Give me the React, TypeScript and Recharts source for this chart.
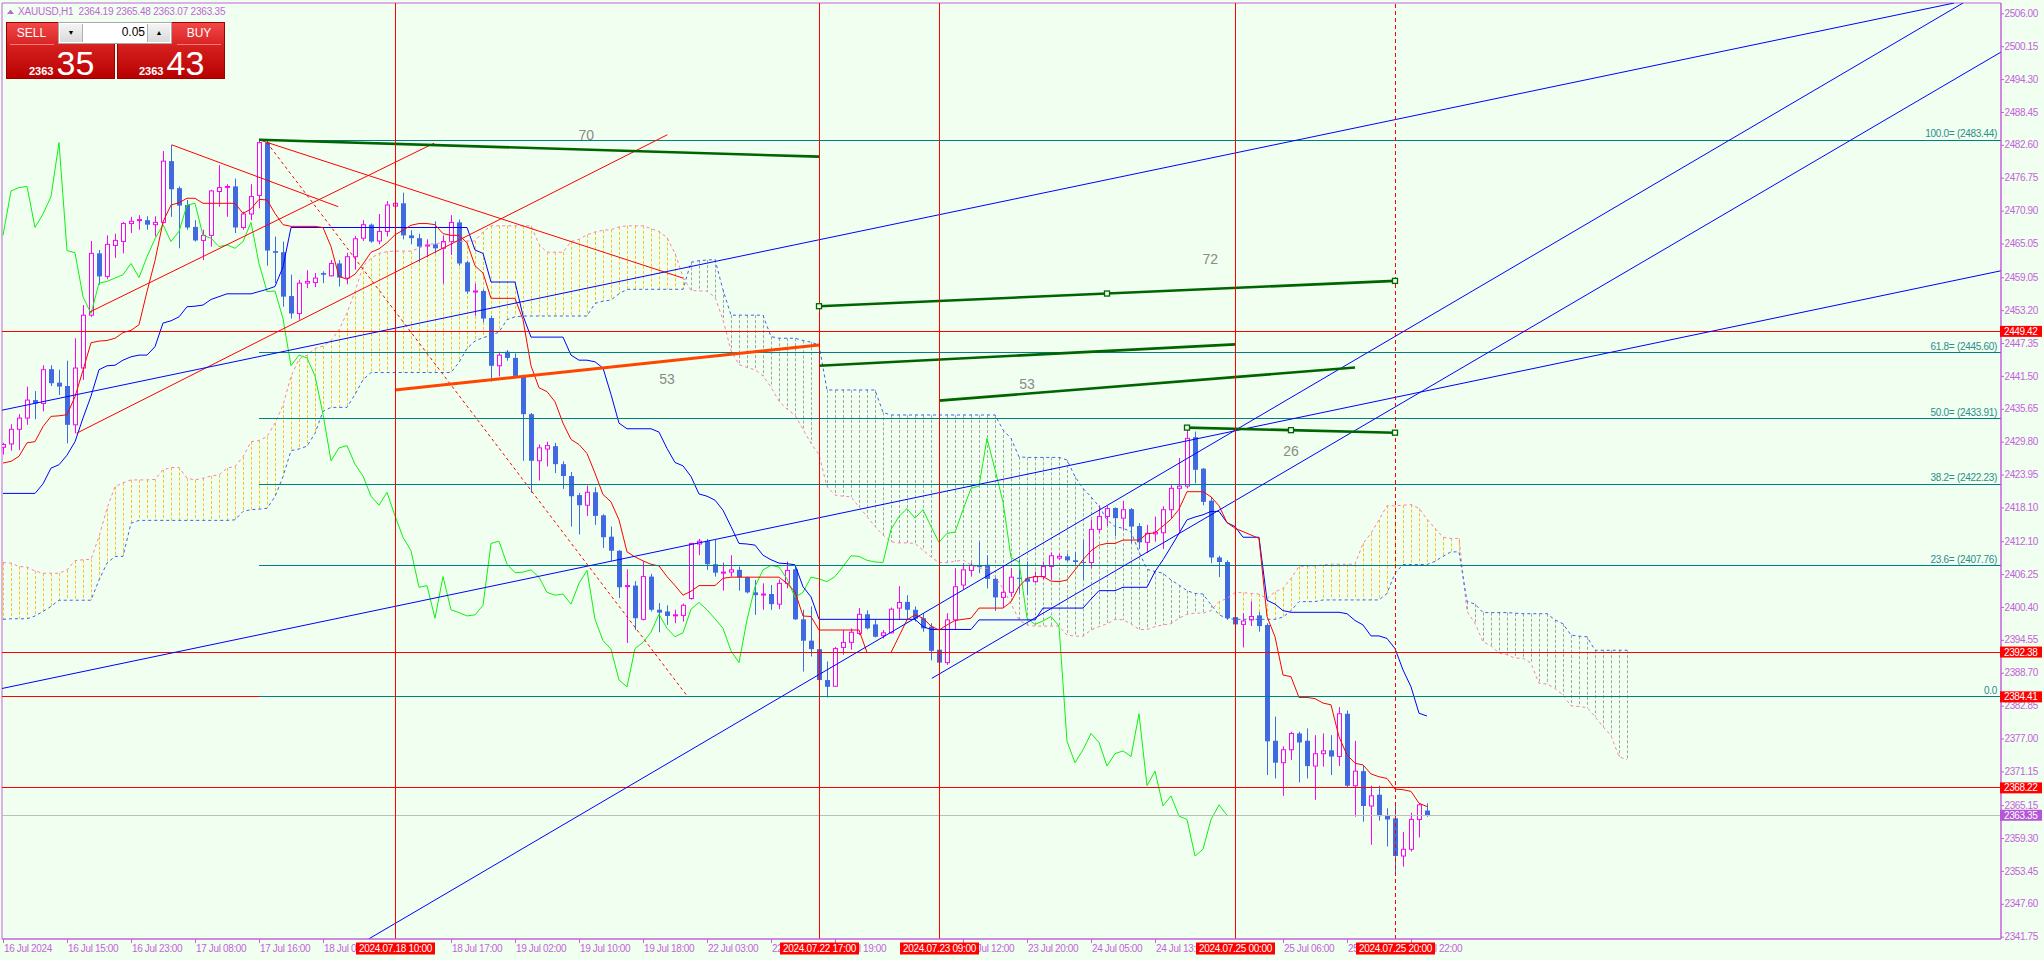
import React from 'react';
import {
  ComposedChart,
  Bar,
  Line,
  XAxis,
  YAxis,
  ReferenceLine,
  ReferenceDot,
  ReferenceArea,
} from 'recharts';

// XAUUSD H1, one row per bar (index 0 = 16 Jul 07:00)
const open = [
  2428.8, 2429.4, 2432.0, 2434.0, 2437.2, 2436.6, 2442.7, 2440.3, 2439.7, 2432.8,
  2442.9, 2452.3, 2463.3, 2459.2, 2464.7, 2465.4, 2468.6, 2469.2, 2469.2, 2468.4,
  2468.8, 2479.7, 2474.9, 2471.9, 2468.0, 2465.6, 2466.5, 2474.3, 2475.1, 2475.2,
  2467.9, 2470.3, 2473.6, 2483.0, 2463.7, 2463.5, 2455.7, 2452.6, 2458.0, 2458.1,
  2459.8, 2459.3, 2461.5, 2458.9, 2462.7, 2466.0, 2468.4, 2465.5, 2467.2, 2471.7,
  2472.2, 2466.5, 2466.0, 2464.6, 2464.9, 2464.2, 2465.4, 2468.8, 2461.7, 2456.5,
  2456.6, 2451.8, 2443.3, 2445.8, 2444.7, 2441.5, 2434.7, 2426.4, 2428.5, 2429.0,
  2425.8, 2423.7, 2420.3, 2418.5, 2420.8, 2416.7, 2412.9, 2410.4, 2404.1, 2404.2,
  2398.2, 2405.8, 2399.9, 2399.6, 2398.9, 2398.9, 2401.9, 2411.6, 2412.1, 2408.0,
  2406.5, 2406.6, 2407.0, 2405.7, 2403.0, 2402.6, 2402.7, 2400.9, 2404.6, 2407.1,
  2398.2, 2394.4, 2392.9, 2387.4, 2386.3, 2393.2, 2394.1, 2395.7, 2399.1, 2397.3,
  2395.3, 2395.8, 2400.2, 2401.3, 2399.9, 2398.4, 2396.9, 2392.8, 2390.5, 2398.1,
  2404.3, 2406.9, 2407.8, 2407.9, 2405.4, 2402.1, 2403.0, 2405.6, 2405.5, 2404.9,
  2405.8, 2407.6, 2409.1, 2409.4, 2408.7, 2408.4, 2408.3, 2414.2, 2416.5, 2418.0,
  2416.2, 2417.8, 2414.8, 2411.9, 2413.4, 2413.6, 2417.7, 2421.5, 2421.9, 2430.6,
  2425.0, 2419.3, 2409.2, 2408.4, 2398.6, 2397.3, 2398.1, 2398.9, 2397.2, 2376.6,
  2372.7, 2375.0, 2377.9, 2376.6, 2372.1, 2374.3, 2374.9, 2373.8, 2381.4, 2368.6,
  2371.2, 2365.0, 2367.0, 2363.4, 2362.8, 2356.1, 2357.3, 2362.6, 2364.19,
];
const high = [
  2429.6, 2432.9, 2434.7, 2439.6, 2438.8, 2443.4, 2443.4, 2442.6, 2444.2, 2448.2,
  2454.1, 2465.5, 2463.9, 2466.5, 2466.8, 2468.9, 2469.8, 2470.1, 2469.9, 2469.9,
  2481.5, 2482.6, 2475.2, 2472.8, 2469.2, 2467.5, 2474.6, 2479.0, 2475.6, 2476.6,
  2470.7, 2475.6, 2483.44, 2483.3, 2466.3, 2465.4, 2459.5, 2458.6, 2460.3, 2459.8,
  2460.1, 2462.1, 2462.1, 2463.4, 2466.4, 2469.2, 2468.6, 2470.3, 2472.6, 2475.3,
  2474.1, 2467.4, 2466.8, 2465.8, 2469.0, 2466.5, 2470.1, 2469.3, 2462.0, 2457.9,
  2456.9, 2452.2, 2445.8, 2446.1, 2445.5, 2441.7, 2434.9, 2429.3, 2429.8, 2429.6,
  2426.3, 2424.4, 2420.7, 2422.0, 2421.7, 2416.9, 2414.7, 2410.5, 2407.1, 2405.0,
  2408.5, 2406.3, 2401.1, 2400.7, 2399.9, 2401.0, 2411.8, 2412.5, 2412.5, 2412.3,
  2408.3, 2409.6, 2407.6, 2405.8, 2405.2, 2404.6, 2404.3, 2405.3, 2408.5, 2407.5,
  2399.9, 2400.5, 2395.0, 2390.7, 2393.3, 2396.3, 2396.6, 2400.2, 2399.8, 2398.1,
  2396.3, 2400.3, 2404.1, 2402.5, 2400.5, 2399.3, 2397.5, 2393.9, 2399.3, 2407.3,
  2408.2, 2408.2, 2412.0, 2409.6, 2405.8, 2407.6, 2407.3, 2408.8, 2408.5, 2406.7,
  2408.5, 2410.1, 2409.9, 2409.9, 2410.2, 2412.3, 2415.9, 2418.5, 2418.4, 2418.1,
  2419.3, 2418.0, 2415.3, 2415.0, 2416.5, 2418.3, 2422.1, 2426.9, 2432.6, 2431.6,
  2425.1, 2420.0, 2409.5, 2408.7, 2400.5, 2399.3, 2401.4, 2399.5, 2397.5, 2380.9,
  2375.6, 2378.2, 2378.2, 2378.8, 2377.6, 2377.9, 2377.6, 2382.6, 2382.0, 2376.6,
  2372.1, 2368.6, 2368.6, 2364.6, 2365.5, 2360.4, 2363.8, 2365.5, 2365.48,
];
const low = [
  2427.5, 2428.2, 2428.3, 2432.8, 2433.8, 2435.2, 2439.7, 2438.1, 2429.5, 2431.3,
  2440.8, 2452.0, 2457.7, 2458.7, 2462.5, 2463.3, 2466.9, 2467.5, 2467.5, 2466.3,
  2468.6, 2469.8, 2464.2, 2467.5, 2465.4, 2462.1, 2464.5, 2471.6, 2469.8, 2466.9,
  2467.5, 2469.2, 2471.3, 2461.1, 2458.0, 2453.8, 2451.7, 2451.5, 2457.1, 2457.3,
  2458.0, 2459.2, 2457.4, 2457.8, 2460.4, 2465.5, 2465.2, 2464.9, 2466.3, 2464.5,
  2465.8, 2464.9, 2461.7, 2462.6, 2463.3, 2457.9, 2463.0, 2461.1, 2456.1, 2452.2,
  2451.0, 2440.5, 2441.4, 2444.2, 2441.4, 2426.4, 2420.7, 2422.9, 2425.4, 2424.2,
  2421.4, 2414.7, 2413.3, 2416.6, 2415.0, 2410.9, 2408.6, 2402.0, 2394.0, 2396.3,
  2398.0, 2399.6, 2395.9, 2397.2, 2397.5, 2397.8, 2401.7, 2409.6, 2407.0, 2405.8,
  2403.3, 2405.8, 2403.3, 2402.8, 2399.0, 2399.9, 2399.9, 2400.0, 2403.7, 2398.1,
  2388.9, 2391.6, 2384.2, 2384.3, 2386.2, 2391.9, 2392.8, 2395.4, 2396.4, 2395.0,
  2394.8, 2395.7, 2398.1, 2398.1, 2397.8, 2396.0, 2390.9, 2389.2, 2390.1, 2396.3,
  2403.5, 2405.8, 2406.4, 2403.7, 2399.7, 2400.2, 2402.2, 2402.8, 2402.5, 2404.7,
  2405.3, 2405.3, 2408.8, 2408.5, 2407.9, 2405.2, 2407.3, 2413.6, 2414.8, 2413.0,
  2414.1, 2411.7, 2410.7, 2410.0, 2412.0, 2410.7, 2416.2, 2413.8, 2421.5, 2422.4,
  2418.5, 2408.2, 2405.7, 2398.1, 2397.2, 2393.2, 2397.0, 2396.0, 2370.5, 2369.9,
  2366.8, 2373.2, 2369.2, 2369.9, 2366.1, 2372.0, 2370.5, 2372.1, 2368.2, 2363.1,
  2362.2, 2358.1, 2362.4, 2357.8, 2352.8, 2354.2, 2356.9, 2359.4, 2363.07,
];
const close = [
  2429.3, 2432.0, 2434.0, 2437.2, 2436.6, 2442.6, 2440.2, 2439.6, 2432.8, 2442.9,
  2452.3, 2463.3, 2459.2, 2464.9, 2465.6, 2468.6, 2469.0, 2469.3, 2468.4, 2468.8,
  2479.7, 2474.7, 2471.8, 2467.9, 2465.6, 2466.5, 2474.4, 2475.0, 2475.2, 2467.9,
  2470.3, 2473.4, 2483.0, 2463.8, 2463.4, 2455.6, 2452.6, 2458.0, 2458.3, 2458.9,
  2459.5, 2461.5, 2459.0, 2462.7, 2465.9, 2468.4, 2465.4, 2467.2, 2471.9, 2472.2,
  2466.5, 2466.0, 2464.5, 2464.8, 2464.2, 2465.4, 2468.8, 2461.5, 2456.5, 2456.6,
  2451.7, 2443.3, 2445.2, 2444.7, 2441.5, 2434.7, 2426.4, 2428.7, 2429.1, 2425.8,
  2423.7, 2420.1, 2418.5, 2420.8, 2416.6, 2412.8, 2410.4, 2403.9, 2404.2, 2398.4,
  2405.8, 2399.9, 2399.4, 2398.8, 2399.0, 2400.7, 2411.7, 2412.1, 2408.0, 2406.5,
  2406.6, 2407.0, 2405.7, 2403.0, 2402.5, 2402.7, 2400.9, 2404.6, 2406.9, 2398.2,
  2394.4, 2392.9, 2387.4, 2386.2, 2393.0, 2394.1, 2395.9, 2399.1, 2396.6, 2395.1,
  2395.8, 2400.0, 2401.2, 2399.9, 2398.3, 2396.6, 2392.6, 2390.5, 2398.1, 2404.0,
  2407.0, 2407.8, 2407.5, 2405.4, 2402.1, 2403.0, 2405.7, 2405.4, 2404.9, 2405.8,
  2407.6, 2409.5, 2409.4, 2408.7, 2408.4, 2408.3, 2414.2, 2416.5, 2417.9, 2416.2,
  2417.7, 2414.7, 2411.9, 2413.5, 2413.7, 2417.7, 2421.5, 2421.9, 2430.4, 2424.8,
  2419.1, 2409.2, 2408.4, 2398.4, 2397.3, 2397.9, 2398.7, 2397.0, 2376.5, 2372.7,
  2375.0, 2377.9, 2376.3, 2372.1, 2374.3, 2374.8, 2373.8, 2381.4, 2368.6, 2371.2,
  2365.0, 2366.8, 2363.2, 2362.6, 2356.1, 2357.3, 2362.6, 2365.2, 2363.35,
];

// Ichimoku lines
const tenkan = [
  2426.0, 2426.3, 2427.2, 2429.6, 2429.8, 2432.5, 2434.3, 2434.4, 2434.6, 2437.8,
  2442.5, 2447.4, 2447.7, 2447.8, 2448.2, 2449.2, 2449.6, 2450.6, 2456.5, 2462.0,
  2468.9, 2471.9, 2472.3, 2473.1, 2473.1, 2472.2, 2472.2, 2472.2, 2472.2, 2472.2,
  2470.4, 2471.2, 2472.9, 2472.8, 2470.4, 2468.4, 2468.1, 2468.1, 2468.1, 2468.1,
  2467.9, 2464.5, 2459.2, 2458.7, 2459.6, 2461.4, 2463.5, 2464.1, 2465.2, 2466.6,
  2467.4, 2468.3, 2468.6, 2468.6, 2468.4, 2466.8, 2466.5, 2466.5, 2465.2, 2461.1,
  2459.8, 2455.3, 2455.3, 2455.3, 2455.3, 2451.5, 2443.3, 2439.4, 2438.7, 2436.9,
  2433.1, 2430.2, 2429.3, 2427.7, 2424.2, 2420.4, 2419.1, 2415.9, 2410.2, 2409.3,
  2408.6, 2408.0, 2407.7, 2405.8, 2404.2, 2402.5, 2403.2, 2404.2, 2404.2, 2404.2,
  2405.5, 2405.7, 2405.7, 2405.7, 2405.7, 2405.7, 2405.7, 2405.7, 2404.6, 2403.1,
  2398.8, 2398.7, 2396.3, 2396.3, 2396.3, 2396.3, 2396.3, 2396.3, 2392.3, 2392.3,
  2392.3, 2392.3, 2395.2, 2398.1, 2399.0, 2398.4, 2397.0, 2396.3, 2397.2, 2398.0,
  2398.2, 2398.4, 2400.2, 2400.2, 2400.2, 2400.2, 2401.3, 2404.0, 2405.5, 2405.8,
  2405.8, 2405.0, 2404.9, 2405.2, 2407.0, 2408.8, 2410.4, 2411.4, 2411.7, 2411.7,
  2412.3, 2412.3, 2412.3, 2413.4, 2413.6, 2414.8, 2416.0, 2417.8, 2420.9, 2420.9,
  2420.9, 2420.0, 2418.4, 2415.4, 2414.4, 2413.8, 2413.2, 2412.6, 2398.7, 2395.1,
  2388.3, 2388.0, 2384.3, 2384.3, 2384.1, 2383.3, 2383.0, 2377.3, 2374.1, 2372.6,
  2372.3, 2370.7, 2370.2, 2369.9, 2368.0, 2367.9, 2367.6, 2365.5, 2364.9,
];
const kijun = [
  2420.6, 2420.6, 2420.6, 2420.6, 2420.6, 2422.3, 2425.1, 2425.7, 2427.4, 2429.8,
  2434.0, 2437.9, 2442.6, 2443.3, 2443.4, 2444.3, 2444.9, 2445.2, 2445.2, 2446.7,
  2450.9, 2451.3, 2452.0, 2453.8, 2453.9, 2454.1, 2455.1, 2455.6, 2456.1, 2456.1,
  2456.1, 2456.1, 2456.5, 2456.9, 2457.4, 2460.9, 2467.9, 2467.9, 2467.9, 2467.9,
  2467.9, 2467.9, 2467.9, 2467.9, 2467.9, 2467.9, 2467.9, 2467.9, 2467.9, 2467.9,
  2467.9, 2467.9, 2467.9, 2467.9, 2467.9, 2467.9, 2467.9, 2467.9, 2467.9, 2463.9,
  2463.3, 2458.2, 2458.2, 2458.2, 2458.2, 2452.2, 2448.4, 2448.4, 2448.4, 2448.4,
  2448.4, 2445.2, 2444.3, 2444.3, 2444.0, 2442.9, 2438.2, 2433.1, 2432.1, 2432.1,
  2432.1, 2432.1, 2431.5, 2428.6, 2426.1, 2425.5, 2423.6, 2420.5, 2420.1, 2419.4,
  2417.6, 2414.7, 2411.7, 2411.6, 2411.4, 2409.6, 2408.8, 2408.2, 2408.1, 2407.9,
  2404.0, 2402.2, 2398.2, 2398.2, 2398.2, 2398.2, 2398.2, 2398.2, 2398.2, 2398.2,
  2398.2, 2398.2, 2398.2, 2398.2, 2398.2, 2396.9, 2396.4, 2396.4, 2396.4, 2396.4,
  2396.4, 2396.4, 2398.1, 2398.1, 2398.1, 2398.1, 2398.1, 2398.1, 2398.1, 2398.1,
  2400.2, 2400.2, 2400.2, 2400.2, 2400.2, 2400.2, 2401.8, 2403.3, 2403.3, 2403.3,
  2403.9, 2403.9, 2403.9, 2403.9, 2406.7, 2408.8, 2411.1, 2413.5, 2415.9, 2416.4,
  2416.8, 2417.4, 2417.4, 2415.4, 2414.7, 2412.8, 2412.8, 2412.8, 2401.6, 2400.9,
  2399.75, 2399.45, 2399.45, 2399.45, 2399.45, 2399.45, 2399.45, 2399.45, 2399.2, 2398.0,
  2397.2, 2395.25, 2395.25, 2394.8, 2393.0, 2389.2, 2386.2, 2381.5, 2381.0,
];
const spanA = [
  2408.3, 2408.2, 2407.6, 2407.5, 2406.8, 2406.4, 2406.4, 2406.4, 2407.0, 2408.65,
  2408.8, 2408.9, 2412.9, 2417.95, 2421.8, 2422.5, 2423.0, 2423.0, 2423.0, 2423.1,
  2424.8, 2425.2, 2425.2, 2423.3, 2423.0, 2423.3, 2423.7, 2423.9, 2425.1, 2425.4,
  2427.1, 2429.8, 2430.0, 2430.7, 2433.1, 2436.3, 2441.4, 2444.5, 2445.2, 2446.4,
  2446.8, 2447.8, 2449.7, 2452.7, 2456.5, 2461.0, 2462.4, 2463.3, 2463.6, 2463.7,
  2463.7, 2463.7, 2464.2, 2464.9, 2465.0, 2465.2, 2465.4, 2465.4, 2465.5, 2465.5,
  2467.1, 2468.2, 2468.2, 2468.2, 2468.2, 2468.2, 2468.2, 2464.9, 2463.5, 2463.5,
  2463.5, 2465.4, 2465.8, 2466.6, 2467.1, 2467.4, 2467.5, 2468.0, 2468.2, 2468.2,
  2468.2, 2467.7, 2467.2, 2466.1, 2463.3, 2459.1, 2456.7, 2456.6, 2456.6, 2455.5,
  2451.5, 2446.0, 2443.5, 2443.0, 2442.6, 2441.5, 2439.5, 2437.0, 2435.6, 2434.5,
  2432.0, 2429.5, 2427.5, 2421.8, 2420.3, 2420.1, 2420.0, 2418.2, 2416.5, 2414.7,
  2413.2, 2412.0, 2411.8, 2411.8, 2411.7, 2410.5, 2409.3, 2408.3, 2408.3, 2408.5,
  2408.75, 2407.9, 2407.3, 2407.3, 2405.8, 2403.7, 2401.0, 2398.1, 2397.2, 2397.0,
  2397.0, 2397.0, 2397.0, 2395.4, 2395.2, 2395.2, 2396.3, 2396.9, 2397.4, 2398.2,
  2398.1, 2397.4, 2396.4, 2396.4, 2396.9, 2397.2, 2397.4, 2398.4, 2399.1, 2399.3,
  2399.3, 2399.75, 2401.35, 2401.9, 2402.95, 2402.95, 2402.8, 2402.7, 2401.9, 2403.1,
  2403.7, 2405.5, 2407.6, 2407.7, 2407.7, 2407.9, 2408.0, 2408.0, 2408.0, 2408.0,
  2411.7, 2413.5, 2415.9, 2418.4, 2418.4, 2418.5, 2418.6, 2417.95, 2416.0, 2414.4,
  2412.8, 2412.6, 2412.6, 2399.6, 2397.5, 2394.2, 2393.5, 2392.2, 2391.9, 2391.3,
  2391.3, 2390.4, 2386.8, 2386.7, 2385.9, 2384.75, 2382.8, 2382.7, 2382.5, 2380.9,
  2379.1, 2377.5, 2373.8, 2373.2,
];
const spanB = [
  2398.2, 2398.3, 2398.3, 2398.3, 2398.8, 2399.6, 2400.5, 2401.6, 2401.6, 2401.6,
  2401.6, 2401.6, 2405.2, 2408.2, 2409.4, 2409.4, 2415.3, 2415.8, 2415.8, 2415.8,
  2415.8, 2415.8, 2415.8, 2415.8, 2415.8, 2415.8, 2415.8, 2415.8, 2415.8, 2415.9,
  2417.4, 2417.7, 2417.8, 2417.95, 2420.0, 2423.6, 2428.2, 2428.5, 2429.0, 2431.3,
  2435.2, 2435.9, 2435.9, 2435.9, 2438.2, 2440.8, 2442.1, 2442.1, 2442.1, 2442.1,
  2442.1, 2442.1, 2442.1, 2442.1, 2442.1, 2442.1, 2442.1, 2443.9, 2446.4, 2447.7,
  2448.3, 2448.7, 2449.3, 2451.5, 2452.0, 2452.15, 2452.15, 2452.15, 2452.15, 2452.15,
  2452.15, 2452.15, 2452.15, 2452.15, 2454.4, 2454.8, 2455.0, 2456.1, 2456.9, 2456.9,
  2456.9, 2456.9, 2456.9, 2456.9, 2456.9, 2456.9, 2461.7, 2462.0, 2462.1, 2462.2,
  2456.8, 2452.3, 2452.3, 2452.3, 2452.3, 2452.3, 2448.5, 2448.2, 2448.2, 2448.2,
  2447.8, 2447.5, 2447.0, 2439.0, 2439.0, 2439.0, 2439.0, 2439.0, 2439.0, 2439.0,
  2435.0, 2434.55, 2434.55, 2434.55, 2434.55, 2434.55, 2434.55, 2434.55, 2434.55, 2434.55,
  2434.55, 2434.55, 2434.55, 2434.55, 2434.55, 2431.9, 2430.4, 2427.1, 2427.0, 2427.0,
  2427.0, 2427.0, 2427.0, 2426.55, 2423.6, 2421.5, 2420.0, 2418.3, 2415.9, 2414.7,
  2414.4, 2413.8, 2410.2, 2407.1, 2406.7, 2406.4, 2405.2, 2404.3, 2403.3, 2402.8,
  2402.7, 2400.8, 2399.0, 2398.4, 2398.2, 2398.2, 2398.2, 2398.2, 2398.2, 2398.2,
  2398.6, 2399.75, 2401.35, 2401.35, 2401.35, 2401.65, 2401.65, 2401.65, 2401.65, 2401.65,
  2401.65, 2401.65, 2401.65, 2402.8, 2406.4, 2407.95, 2407.95, 2407.95, 2407.95, 2408.5,
  2409.4, 2410.2, 2410.2, 2401.4, 2400.9, 2399.4, 2399.4, 2399.4, 2399.4, 2399.3,
  2399.2, 2399.2, 2399.2, 2399.2, 2398.1, 2397.4, 2395.4, 2395.2, 2395.1, 2392.7,
  2392.7, 2392.7, 2392.7, 2392.7,
];
// the lagging span is the close plotted this many bars back
const CHIKOU_SHIFT = 25;

// axes (labels fully hidden under the date boxes are left out)
const priceTicks = [
  2506.0, 2500.15, 2494.3, 2488.45, 2482.6, 2476.75, 2470.9, 2465.05, 2459.05, 2453.2,
  2447.35, 2441.5, 2435.65, 2429.8, 2423.95, 2418.1, 2412.1, 2406.25, 2400.4, 2394.55,
  2388.7, 2382.85, 2377.0, 2371.15, 2365.15, 2359.3, 2353.45, 2347.6, 2341.75,
];
const timeTicks = [0, 8, 16, 24, 32, 40, 56, 64, 72, 80, 88, 96, 104, 120, 128, 136, 144, 160, 168, 176];
const timeLabels = [
  '16 Jul 2024', '16 Jul 15:00', '16 Jul 23:00', '17 Jul 08:00', '17 Jul 16:00', '18 Jul 01:00',
  '18 Jul 17:00', '19 Jul 02:00', '19 Jul 10:00', '19 Jul 18:00', '22 Jul 03:00',
  '22 Jul 11:00', '22 Jul 19:00', '23 Jul 12:00', '23 Jul 20:00', '24 Jul 05:00',
  '24 Jul 13:00', '25 Jul 06:00', '25 Jul 14:00', '25 Jul 22:00',
];

// objects on the chart
const vLineBars = [49, 102, 117, 154, 174];
const vLineLabels = ['2024.07.18 10:00', '2024.07.22 17:00', '2024.07.23 09:00', '2024.07.25 00:00', '2024.07.25 20:00'];
const redLevels = [2449.42, 2392.38, 2384.41, 2368.22];
const bidPrice = 2363.35;
const fibStart = 32;
const fibLevels = [2483.44, 2445.6, 2433.91, 2422.23, 2407.76, 2384.41];
const fibNames = ['100.0= (2483.44)', '61.8= (2445.60)', '50.0= (2433.91)', '38.2= (2422.23)', '23.6= (2407.76)', '0.0'];

const redTrend = [
  [[21.1, 2482.6], [41.9, 2471.6]],
  [[32, 2483.5], [85, 2458.9]],
  [[10.9, 2452.9], [53.9, 2482.9]],
  [[9.2, 2431.3], [83.05, 2484.4]],
];
const redDashed = [[33, 2483.0], [85.6, 2384.41]];
const orangeTrend = [[49, 2439.0], [102, 2447.0]];
const blueTrend = [
  [[-0.125, 2435.4], [243.9, 2507.83]],
  [[-0.125, 2385.9], [249.75, 2460.2]],
  [[45.7, 2341.34], [245.0, 2507.83]],
  [[116.1, 2387.7], [249.75, 2499.1]],
];
const greenTrend = [
  [[32, 2483.5], [102, 2480.5]],
  [[102, 2453.9], [174, 2458.4]],
  [[102, 2443.3], [154, 2447.1]],
  [[117, 2437.1], [169, 2443.0]],
  [[148, 2432.3], [174, 2431.4]],
];
const greenMarks = [[102, 2453.9], [138, 2456.15], [174, 2458.4], [148, 2432.3], [161, 2431.85], [174, 2431.4]];
const angleLabels = [
  { x: 72.9, y: 2484.4, text: '70' },
  { x: 150.9, y: 2462.25, text: '72' },
  { x: 83, y: 2440.95, text: '53' },
  { x: 128, y: 2440.1, text: '53' },
  { x: 161, y: 2428.2, text: '26' },
];

const rows = spanA.map((a, i) => ({
  i,
  o: i < open.length ? open[i] : null,
  h: i < high.length ? high[i] : null,
  l: i < low.length ? low[i] : null,
  c: i < close.length ? close[i] : null,
  tenkan: i < tenkan.length ? tenkan[i] : null,
  kijun: i < kijun.length ? kijun[i] : null,
  chikou: i + CHIKOU_SHIFT < close.length ? close[i + CHIKOU_SHIFT] : null,
  a,
  b: spanB[i],
}));

const X_DOMAIN = [-0.125, 249.75];
const Y_DOMAIN = [2341.34, 2507.83];
const BG = '#F0FFF0';
const AXIS = '#C463DB';
const FONT = "'Liberation Sans', Arial, sans-serif";
const BULL = '#FF00FF';
const BEAR = '#4169E1';

function Candle(props: any) {
  const { x, y, width, height, payload } = props;
  if (!payload || payload.h == null) return null;
  const cx = Math.round(x + width / 2) + 0.5;
  const { o, h, l, c } = payload;
  const span = h - l || 1;
  const py = (v: number) => y + ((h - v) / span) * height;
  const up = c >= o;
  const top = py(Math.max(o, c));
  const bot = py(Math.min(o, c));
  const color = up ? BULL : BEAR;
  return (
    <g>
      <line x1={cx} x2={cx} y1={y} y2={y + height} stroke={color} strokeWidth={1} />
      {up ? (
        <rect x={cx - 2} y={top} width={4} height={Math.max(bot - top, 1)} fill={BG} stroke={color} strokeWidth={1} />
      ) : (
        <rect x={cx - 2.5} y={top} width={5} height={Math.max(bot - top, 1)} fill={color} />
      )}
    </g>
  );
}

function Hatch(props: any) {
  const { x, y, width, height, payload } = props;
  if (!payload) return null;
  const cx = Math.round(x + width / 2) + 0.5;
  const color = payload.a >= payload.b ? '#F7C31E' : '#A3A3A3';
  return <line x1={cx} x2={cx} y1={y} y2={y + height} stroke={color} strokeWidth={1} strokeDasharray="3 2" />;
}

function XTick(props: any) {
  const { x, y, payload } = props;
  const v = payload.value;
  const m = vLineBars.indexOf(v);
  if (m >= 0) {
    return (
      <g>
        <rect x={x - 39} y={y + 3.5} width={79} height={12} fill="#FF0000" />
        <text x={x + 0.5} y={y + 13} textAnchor="middle" fill="#FFFFFF" fontSize={10} letterSpacing={-0.3} fontFamily={FONT}>
          {vLineLabels[m]}
        </text>
      </g>
    );
  }
  const k = timeTicks.indexOf(v);
  return (
    <g>
      <line x1={x + 0.5} x2={x + 0.5} y1={y} y2={y + 4} stroke={AXIS} />
      <text x={x + 1} y={y + 13} fill={AXIS} fontSize={10} letterSpacing={-0.35} fontFamily={FONT}>
        {timeLabels[k]}
      </text>
    </g>
  );
}

function YTick(props: any) {
  const { x, y, payload } = props;
  const v = payload.value;
  const isRed = redLevels.indexOf(v) >= 0;
  const isBid = v === bidPrice;
  if (isRed || isBid) {
    return (
      <g>
        <rect x={x - 1} y={y - 5.5} width={42} height={11} fill={isRed ? '#FF0000' : '#B556D6'} />
        <text x={x + 3} y={y + 3.6} fill="#FFFFFF" fontSize={10} letterSpacing={-0.4} fontFamily={FONT}>
          {v.toFixed(2)}
        </text>
      </g>
    );
  }
  return (
    <g>
      <line x1={x} x2={x + 3} y1={y + 0.5} y2={y + 0.5} stroke={AXIS} />
      <text x={x + 3.5} y={y + 3.6} fill={AXIS} fontSize={10} letterSpacing={-0.4} fontFamily={FONT}>
        {v.toFixed(2)}
      </text>
    </g>
  );
}

function seg(p: number[][]) {
  return [
    { x: p[0][0], y: p[0][1] },
    { x: p[1][0], y: p[1][1] },
  ];
}

function Header() {
  return (
    <div style={{ position: 'absolute', left: 7, top: 5, height: 13, display: 'flex', alignItems: 'center', color: AXIS, fontFamily: FONT, fontSize: 10, letterSpacing: -0.2, whiteSpace: 'pre' }}>
      <svg width={7} height={6} style={{ marginRight: 4 }}>
        <polygon points="0,5 3.5,0.5 7,5" fill={AXIS} />
      </svg>
      {'XAUUSD,H1  2364.19 2365.48 2363.07 2363.35'}
    </div>
  );
}

function OneClick() {
  const red = 'linear-gradient(#F24848, #D41E1E 45%, #B80000)';
  const box = { position: 'absolute' as const, background: red, border: '1px solid #9A0000', boxSizing: 'border-box' as const };
  const btnText = { position: 'absolute' as const, color: '#FFFFFF', fontFamily: FONT, fontSize: 12, textAlign: 'center' as const };
  const small = { fontSize: 11, fontWeight: 700 as const };
  const big = { fontSize: 34, lineHeight: '34px' };
  return (
    <div style={{ position: 'absolute', left: 0, top: 0 }}>
      <div style={{ ...box, left: 6, top: 22, width: 109, height: 57 }} />
      <div style={{ ...box, left: 117, top: 22, width: 108, height: 57 }} />
      <div style={{ ...btnText, left: 6, top: 26, width: 51 }}>SELL</div>
      <div style={{ ...btnText, left: 173, top: 26, width: 52 }}>BUY</div>
      <div style={{ position: 'absolute', left: 10, top: 44, width: 44, height: 1, background: '#F77' }} />
      <div style={{ position: 'absolute', left: 177, top: 44, width: 44, height: 1, background: '#F77' }} />
      <div style={{ position: 'absolute', left: 58, top: 22, width: 114, height: 22, background: '#FFFFFF', border: '1px solid #A9A9A9', boxSizing: 'border-box' }}>
        <div style={{ position: 'absolute', left: 1, top: 1, width: 22, height: 18, background: 'linear-gradient(#F4F4F4, #DADADA)', borderRight: '1px solid #B0B0B0', fontSize: 7, textAlign: 'center', lineHeight: '18px' }}>▼</div>
        <div style={{ position: 'absolute', right: 1, top: 1, width: 22, height: 18, background: 'linear-gradient(#F4F4F4, #DADADA)', borderLeft: '1px solid #B0B0B0', fontSize: 7, textAlign: 'center', lineHeight: '18px' }}>▲</div>
        <div style={{ position: 'absolute', right: 26, top: 2, fontFamily: FONT, fontSize: 12, color: '#000' }}>0.05</div>
      </div>
      <div style={{ position: 'absolute', left: 29, top: 46, color: '#FFF', fontFamily: FONT, display: 'flex', alignItems: 'baseline' }}>
        <span style={small}>2363</span>
        <span style={{ ...big, marginLeft: 3 }}>35</span>
      </div>
      <div style={{ position: 'absolute', left: 139, top: 46, color: '#FFF', fontFamily: FONT, display: 'flex', alignItems: 'baseline' }}>
        <span style={small}>2363</span>
        <span style={{ ...big, marginLeft: 3 }}>43</span>
      </div>
    </div>
  );
}

export default function App() {
  const yTicks = [...priceTicks, ...redLevels, bidPrice];
  const xTicks = [...timeTicks, ...vLineBars];
  return (
    <div style={{ position: 'absolute', left: 0, top: 0, width: 2044, height: 960, background: BG, overflow: 'hidden' }}>
      <ComposedChart width={2044} height={960} data={rows} margin={{ top: 3, right: 0, bottom: 0, left: 2 }}>
        <XAxis
          dataKey="i"
          type="number"
          domain={X_DOMAIN}
          allowDataOverflow
          ticks={xTicks}
          interval={0}
          tick={(p: any) => <XTick {...p} />}
          tickLine={false}
          tickSize={0}
          tickMargin={0}
          height={21}
          axisLine={{ stroke: AXIS }}
        />
        <XAxis xAxisId="cloud" dataKey="i" type="number" domain={X_DOMAIN} allowDataOverflow hide />
        <YAxis
          orientation="right"
          type="number"
          domain={Y_DOMAIN}
          allowDataOverflow
          ticks={yTicks}
          interval={0}
          tick={(p: any) => <YTick {...p} />}
          tickLine={false}
          tickSize={0}
          tickMargin={0}
          width={43}
          axisLine={{ stroke: AXIS }}
        />
        <ReferenceArea x1={X_DOMAIN[0]} x2={X_DOMAIN[1]} y1={Y_DOMAIN[0]} y2={Y_DOMAIN[1]} fill="none" stroke={AXIS} ifOverflow="visible" />

        <Bar
          xAxisId="cloud"
          dataKey={(d: any) => [Math.min(d.a, d.b), Math.max(d.a, d.b)]}
          barSize={1}
          shape={(p: any) => <Hatch {...p} />}
          isAnimationActive={false}
        />
        <Line dataKey="a" stroke="#FF7DB8" strokeWidth={1} strokeDasharray="3 3" dot={false} activeDot={false} isAnimationActive={false} />
        <Line dataKey="b" stroke="#3F63E8" strokeWidth={1} strokeDasharray="3 3" dot={false} activeDot={false} isAnimationActive={false} />
        <Line dataKey="chikou" stroke="#10F010" strokeWidth={1} dot={false} activeDot={false} isAnimationActive={false} />
        <Line dataKey="kijun" stroke="#0000FF" strokeWidth={1} dot={false} activeDot={false} isAnimationActive={false} />
        <Line dataKey="tenkan" stroke="#FF0000" strokeWidth={1} dot={false} activeDot={false} isAnimationActive={false} />
        <Bar
          dataKey={(d: any) => (d.h == null ? null : [d.l, d.h])}
          barSize={5}
          shape={(p: any) => <Candle {...p} />}
          isAnimationActive={false}
        />

        {redLevels.map((v) => (
          <ReferenceLine key={'r' + v} y={v} stroke="#FF0000" strokeWidth={1} shapeRendering="crispEdges" ifOverflow="hidden" />
        ))}
        <ReferenceLine y={bidPrice} stroke="#BDBDBD" strokeWidth={1} shapeRendering="crispEdges" ifOverflow="hidden" />
        {fibLevels.map((v, k) => (
          <ReferenceLine
            key={'f' + v}
            segment={[{ x: fibStart, y: v }, { x: X_DOMAIN[1], y: v }]}
            stroke="#008080"
            strokeWidth={1}
            shapeRendering="crispEdges"
            ifOverflow="hidden"
            label={(p: any) => {
              const vb = p.viewBox || {};
              return (
                <text x={(vb.x || 0) + (vb.width || 0) - 4} y={(vb.y || 0) - 3} textAnchor="end" fill="#2D8C8C" fontSize={10} letterSpacing={-0.3} fontFamily={FONT}>
                  {fibNames[k]}
                </text>
              );
            }}
          />
        ))}

        {redTrend.map((p, k) => (
          <ReferenceLine key={'rt' + k} segment={seg(p)} stroke="#FF0000" strokeWidth={1} ifOverflow="hidden" />
        ))}
        <ReferenceLine segment={seg(redDashed)} stroke="#FF0000" strokeWidth={1} strokeDasharray="3 3" ifOverflow="hidden" />
        <ReferenceLine segment={seg(orangeTrend)} stroke="#FF4500" strokeWidth={3} ifOverflow="hidden" />
        {blueTrend.map((p, k) => (
          <ReferenceLine key={'bt' + k} segment={seg(p)} stroke="#0000FF" strokeWidth={1} ifOverflow="hidden" />
        ))}
        {greenTrend.map((p, k) => (
          <ReferenceLine key={'gt' + k} segment={seg(p)} stroke="#006400" strokeWidth={2.6} ifOverflow="hidden" />
        ))}
        {greenMarks.map((m, k) => (
          <ReferenceDot
            key={'gm' + k}
            x={m[0]}
            y={m[1]}
            ifOverflow="hidden"
            shape={(p: any) => <rect x={p.cx - 2.5} y={p.cy - 2.5} width={5} height={5} fill={BG} stroke="#006400" strokeWidth={1.3} />}
          />
        ))}

        {vLineBars.map((b, k) => (
          <ReferenceLine
            key={'v' + b}
            x={b}
            stroke="#FF0000"
            strokeWidth={1}
            shapeRendering="crispEdges"
            strokeDasharray={k === vLineBars.length - 1 ? '4 3' : undefined}
            ifOverflow="hidden"
          />
        ))}

        {angleLabels.map((t, k) => (
          <ReferenceDot
            key={'al' + k}
            x={t.x}
            y={t.y}
            ifOverflow="hidden"
            shape={(p: any) => (
              <text x={p.cx} y={p.cy + 5} textAnchor="middle" fill="#8A8A8A" fontSize={14} fontFamily={FONT}>
                {t.text}
              </text>
            )}
          />
        ))}
      </ComposedChart>
      <Header />
      <OneClick />
    </div>
  );
}
